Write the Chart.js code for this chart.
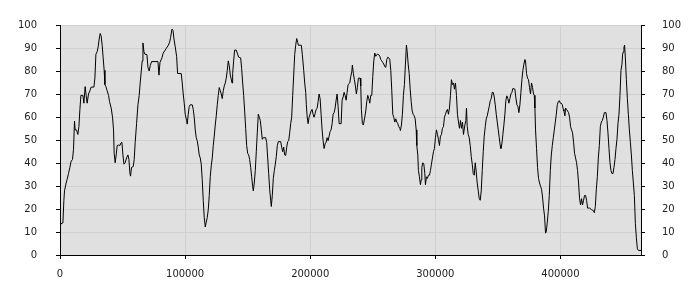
<!DOCTYPE html>
<html>
<head>
    <title>Line chart</title>
    <script src="https://cdn.jsdelivr.net/npm/chart.js"></script>
    <style>
        body { margin: 0; background: #fff; }
    </style>
</head>
<body>
    <canvas id="myChart" width="700" height="300"></canvas>
    <script>
        // x positions of the samples
        var xValues = [
            0, 1500, 2300, 3100, 3600, 4900, 5700, 6800, 7900, 8900,
            10000, 10800, 11600, 12100, 13200, 14300, 15100, 15900, 16700, 18300,
            19100, 20100, 20900, 21700, 22800, 23900, 24900, 27100, 27900, 28700,
            29700, 30500, 31300, 32100, 32900, 33700, 34500, 35300, 35900, 36700,
            37700, 38800, 39600, 40900, 42000, 42800, 43300, 44100, 44900, 45700,
            46800, 47900, 48700, 49500, 50300, 51100, 52100, 53200, 54300, 55100,
            55900, 56400, 57200, 58500, 59300, 60100, 61200, 62300, 63300, 64100,
            64900, 65700, 66300, 67100, 67900, 69500, 70300, 71300, 72100, 73200,
            78300, 79100, 79900, 81500, 82500, 83600, 84900, 86300, 87600, 88400,
            89500, 90300, 91100, 92100, 93200, 94000, 96900, 97700, 98500, 99300,
            100100, 101200, 101700, 102500, 103300, 104100, 105700, 106500, 107300, 108100,
            108900, 109700, 110500, 111300, 112100, 112900, 113700, 114500, 115300, 116100,
            116900, 117700, 118500, 119300, 120100, 120900, 121700, 122500, 123300, 124100,
            124900, 125700, 126500, 127300, 128100, 128900, 129700, 130500, 131300, 132100,
            132900, 133700, 134500, 135300, 136100, 136700, 137500, 138000, 138800, 139600,
            140900, 141700, 142800, 144400, 145200, 146000, 146800, 147600, 148400, 149200,
            150000, 150800, 151600, 152400, 153200, 154000, 154500, 155300, 156100, 156900,
            157700, 158500, 159300, 160100, 160900, 161700, 162500, 164400, 165200, 166000,
            166800, 167600, 168400, 168900, 169700, 170500, 171300, 172100, 172900, 173700,
            174500, 176400, 177200, 178000, 178800, 179600, 180400, 181200, 182000, 182800,
            183600, 184400, 185200, 186000, 186800, 187600, 188400, 189200, 190000, 190500,
            192900, 193700, 194800, 195600, 196400, 196900, 197500, 198300, 199100, 199900,
            200700, 201500, 202300, 203100, 203900, 204700, 205500, 206300, 207100, 207900,
            208700, 209500, 210300, 211100, 211900, 212700, 213500, 214300, 215100, 215900,
            216700, 217500, 218300, 219100, 219900, 220700, 221500, 222300, 223100, 224700,
            225500, 226300, 227100, 227900, 228700, 229500, 230300, 231600, 232400, 233200,
            233700, 234500, 235300, 236100, 236900, 237700, 238500, 239900, 240400, 240900,
            241700, 242500, 243600, 244400, 245200, 246000, 246800, 247600, 248400, 249200,
            250000, 250800, 251600, 252400, 253200, 254000, 254800, 255600, 256400, 257200,
            258000, 258800, 259600, 260400, 261200, 262000, 262800, 263600, 264400, 265200,
            266000, 266800, 267600, 268400, 269200, 270000, 270800, 271600, 272100, 272900,
            273700, 274500, 275300, 276100, 276900, 277500, 278300, 279100, 279900, 280700,
            281500, 282300, 283100, 283900, 284700, 285200, 286000, 286500, 287300, 288100,
            288700, 289200, 290000, 290800, 291600, 292100, 292900, 293700, 294500, 295300,
            296100, 296900, 297700, 298500, 299300, 300100, 300900, 301700, 302500, 303300,
            304100, 304900, 305700, 306500, 307300, 308100, 308900, 309700, 310500, 311300,
            312100, 312900, 313700, 314500, 315300, 316100, 316900, 317700, 318500, 319300,
            320100, 320900, 321700, 322500, 323600, 324400, 324900, 325500, 326300, 327100,
            327900, 328700, 329500, 330300, 331100, 331900, 332700, 333500, 334300, 335100,
            335900, 336700, 337500, 338300, 339100, 339900, 340700, 341500, 342300, 343100,
            343900, 344700, 345500, 346300, 347100, 347900, 348700, 349500, 350300, 351100,
            351900, 352400, 353200, 354000, 354800, 355600, 356400, 357200, 358000, 358800,
            359600, 360400, 361200, 362000, 363600, 364400, 365200, 366000, 366800, 367600,
            368400, 369200, 370000, 370800, 371600, 372100, 372900, 373700, 374500, 375300,
            376100, 376900, 377700, 378500, 379100, 379600, 380100, 380900, 381700, 382500,
            383300, 384100, 384900, 385700, 386500, 387300, 388100, 388700, 389500, 390300,
            391100, 391900, 392700, 393500, 394300, 395100, 395900, 396700, 397500, 398300,
            399100, 399900, 400700, 401500, 402300, 402800, 403600, 404100, 404900, 405700,
            406500, 407300, 408100, 408900, 409700, 410500, 411300, 412100, 412900, 413700,
            414500, 415300, 416100, 416900, 417700, 418500, 419300, 420100, 420900, 421700,
            423300, 424900, 426500, 427100, 427900, 428700, 429500, 430300, 431100, 431900,
            432700, 433500, 434300, 435100, 436400, 437200, 438000, 438800, 439600, 440400,
            441200, 442000, 442800, 443600, 444400, 445200, 446000, 446800, 447600, 448400,
            449200, 449700, 450300, 450800, 451300, 451900, 452700, 453500, 454300, 455100,
            455900, 456700, 457500, 458300, 459100, 459900, 460700, 461500, 462300, 464400
        ];

        // sample values
        var yValues = [
            12.9, 13.9, 13.9, 23.8, 27.9, 31.3, 32.9, 35.4, 38.1, 40.8,
            41.5, 46, 58.2, 54.4, 54.4, 52.4, 55.8, 63.3, 69.4, 69.4,
            66, 73.2, 69.4, 66, 70, 71.4, 73, 73, 76.9, 87.3,
            88.4, 90.5, 93.9, 96.3, 95.2, 91.2, 85.7, 80.3, 74.1, 73.2,
            71.4, 69.4, 66.7, 63.9, 59.9, 54.4, 44.2, 40.1, 43.5, 47.6,
            47.8, 47.6, 48.7, 49, 43.5, 39.5, 40.1, 42.2, 43.5, 41.5,
            35.4, 34.3, 38.1, 38.4, 41.5, 49, 57.1, 65.3, 69.4, 74.8,
            79.6, 84.4, 92.2, 88.4, 87.3, 87.1, 81.6, 80, 82.3, 84.1,
            84.1, 78.2, 83.7, 85.7, 87.8, 88.7, 89.8, 90.9, 92.5, 94.6,
            98.2, 97.7, 93.9, 90.5, 86.4, 78.9, 78.9, 74.8, 70, 66,
            61.2, 58.5, 56.9, 61.2, 64.6, 65.3, 65.3, 63.3, 59.9, 54.4,
            51, 49.7, 46.9, 43.5, 42.2, 39.5, 32.7, 23.8, 16.3, 12.2,
            14.3, 16.3, 19.7, 25.9, 34, 38.8, 42.2, 47.6, 51.7, 56.5,
            60.5, 65.3, 69.4, 72.8, 71.4, 70, 68, 71.4, 73.5, 74.8,
            76.9, 80.3, 84.4, 82.3, 78.2, 76.9, 74.8, 78.9, 84.4, 89.1,
            89.1, 87.8, 86, 85.7, 81, 74.8, 69.4, 62.6, 55.1, 47.6,
            44.2, 43.5, 41.5, 38.1, 34, 29.9, 27.9, 31.3, 36.7, 44.9,
            53.1, 61.2, 59.9, 58.5, 54.4, 50.3, 51, 51, 49, 42.2,
            35.4, 28.6, 23.8, 21.1, 25.9, 33.3, 36.7, 39.5, 42.9, 47.6,
            49.3, 49.3, 46.9, 44.9, 46.9, 43.5, 43.3, 46.9, 49.3, 49.7,
            53.1, 57.1, 59.9, 69.4, 78.2, 87.1, 91.2, 94.1, 92.5, 91.2,
            91.2, 87.1, 80.3, 74.8, 70.7, 65.3, 60.5, 57.1, 59.9, 61.2,
            62.6, 63.3, 61.2, 59.9, 61.5, 63.3, 63.7, 66.7, 70, 68,
            61.2, 54.4, 49.7, 46.3, 48.3, 49, 51, 49.7, 51.7, 53.7,
            54.4, 57.1, 61.2, 61.9, 63.9, 67.3, 70, 64.6, 57.1, 57.1,
            67.3, 68.7, 70.7, 69.4, 67.3, 70.7, 74.1, 74.8, 77.6, 79.6,
            82.6, 78.9, 76.2, 73.5, 70, 72.8, 76.9, 76.9, 73.5, 63.3,
            57.1, 56.5, 59.9, 62.6, 66.7, 69.4, 68, 66, 69.4, 69.4,
            77.6, 84.4, 87.8, 86.4, 87.1, 87.3, 87.1, 86.4, 85, 84.4,
            83.7, 83, 81.9, 81.6, 85, 86, 85.7, 85, 80.3, 71.4,
            61.2, 59.9, 57.8, 59.2, 57.8, 57.1, 55.8, 55.1, 54.1, 56.5,
            61.2, 69.4, 74.1, 83, 91.2, 88.4, 83, 78.9, 72.1, 66.7,
            62.6, 61.2, 60.5, 59.2, 54.4, 47.6, 43.5, 36.7, 34, 30.6,
            32.7, 38.1, 40.1, 39.5, 35.4, 30.6, 34, 33.3, 34.7, 34.7,
            36.7, 39.5, 42.2, 44.9, 46.3, 51, 54.4, 52.4, 50.3, 47.6,
            51.7, 52.4, 55.1, 55.8, 59.9, 61.2, 62.6, 63.3, 61.2, 63.9,
            69.4, 76.2, 74.1, 74.8, 72.1, 74.8, 69.4, 61.2, 57.8, 55.1,
            58.5, 55.1, 57.8, 52.4, 56.5, 58.5, 63.9, 55.8, 52.4, 51,
            47.6, 42.9, 39.5, 35.4, 34.7, 40.1, 36.1, 31.3, 27.9, 24.5,
            23.8, 27.9, 36.7, 44.9, 51.7, 55.8, 59.2, 60.5, 62.6, 64.6,
            67.1, 68, 70.7, 70.7, 68.7, 65.3, 61.2, 57.8, 54.4, 51,
            47.6, 46.3, 48.3, 52.4, 56.5, 61.2, 67.3, 69.2, 68, 66,
            68, 70, 70.7, 72.4, 72.1, 68.3, 65.3, 64.6, 61.9, 65.3,
            70.7, 76.2, 80.3, 83, 85, 84.4, 78.9, 76.9, 76.2, 72.8,
            70, 74.8, 72.8, 70, 69.4, 63.9, 54.4, 46.3, 38.1, 33.3,
            31.3, 29.9, 28.6, 25.2, 20.4, 17, 9.5, 10.2, 14.3, 19,
            25.9, 36.7, 43.5, 47.6, 51, 54.4, 57.8, 61.2, 65.3, 66.7,
            67.1, 66, 66, 65.3, 63.3, 62.6, 60.5, 63.9, 63.3, 62.6,
            61.9, 59.9, 55.8, 54.4, 53.1, 49, 44.2, 42.2, 40.1, 36.7,
            31.3, 24.5, 21.8, 24.5, 21.8, 23.8, 25.9, 25.9, 23.8, 20.4,
            20.4, 19.7, 19.2, 18.4, 21.1, 28.6, 34, 42.2, 47.6, 55.8,
            57.8, 58.5, 59.9, 61.9, 61.9, 58.5, 53.1, 46.3, 40.1, 36.7,
            35.4, 35.4, 38.1, 41.5, 46.3, 50.3, 57.1, 61.2, 69.4, 80.3,
            83, 87.3, 88.4, 90.5, 91.2, 85.7, 76.2, 68, 61.2, 54.4,
            49, 43.5, 36.7, 31.3, 25.9, 13.6, 7.5, 2.7, 2, 2
        ];

        var xTicks = [0, 100000, 200000, 300000, 400000];
        var yTicks = [0, 10, 20, 30, 40, 50, 60, 70, 80, 90, 100];

        var points = [];
        for (var i = 0; i < Math.min(xValues.length, yValues.length); i++) {
            points.push({ x: xValues[i], y: yValues[i] });
        }

        var labelFont = { family: 'DejaVu Sans', size: 10 };

        // grey plot background
        var plotBg = {
            id: 'plotBg',
            beforeDraw: function(chart) {
                var a = chart.chartArea;
                var c = chart.ctx;
                c.save();
                c.fillStyle = '#e0e0e0';
                c.fillRect(a.left, a.top, a.right - a.left, a.bottom - a.top);
                c.restore();
            }
        };

        function setTicks(list) {
            return function(axis) {
                axis.ticks = list.map(function(v) { return { value: v }; });
            };
        }

        function plainLabel(value) {
            return String(value);
        }

        var ctx = document.getElementById('myChart').getContext('2d');
        var chart = new Chart(ctx, {
            type: 'line',
            data: {
                datasets: [{
                    data: points,
                    borderColor: '#000',
                    borderWidth: 1,
                    pointRadius: 0,
                    tension: 0,
                    fill: false
                }]
            },
            options: {
                responsive: false,
                animation: false,
                layout: { padding: { top: 10, left: 0, right: 0, bottom: 0 } },
                plugins: {
                    legend: { display: false },
                    tooltip: { enabled: false }
                },
                scales: {
                    x: {
                        type: 'linear',
                        min: 0,
                        max: 464400,
                        afterBuildTicks: setTicks(xTicks),
                        afterFit: function(s) { s.height = 45; },
                        grid: { color: '#d0d0d0', tickColor: '#000', tickLength: 4 },
                        border: { color: '#000' },
                        ticks: { padding: 9, color: '#222', font: labelFont, maxRotation: 0, autoSkip: false, callback: plainLabel }
                    },
                    y: {
                        position: 'left',
                        min: 0,
                        max: 100,
                        afterBuildTicks: setTicks(yTicks),
                        afterFit: function(s) { s.width = 60; },
                        grid: { color: '#d0d0d0', tickColor: '#000', tickLength: 4 },
                        border: { color: '#000' },
                        ticks: { padding: 19, color: '#222', font: labelFont, callback: plainLabel }
                    },
                    y2: {
                        position: 'right',
                        min: 0,
                        max: 100,
                        afterBuildTicks: setTicks(yTicks),
                        afterFit: function(s) { s.width = 59; },
                        grid: { drawOnChartArea: false, tickColor: '#000', tickLength: 4 },
                        border: { color: '#000' },
                        ticks: { padding: 17, color: '#222', font: labelFont, callback: plainLabel }
                    }
                }
            },
            plugins: [plotBg]
        });
    </script>
</body>
</html>
